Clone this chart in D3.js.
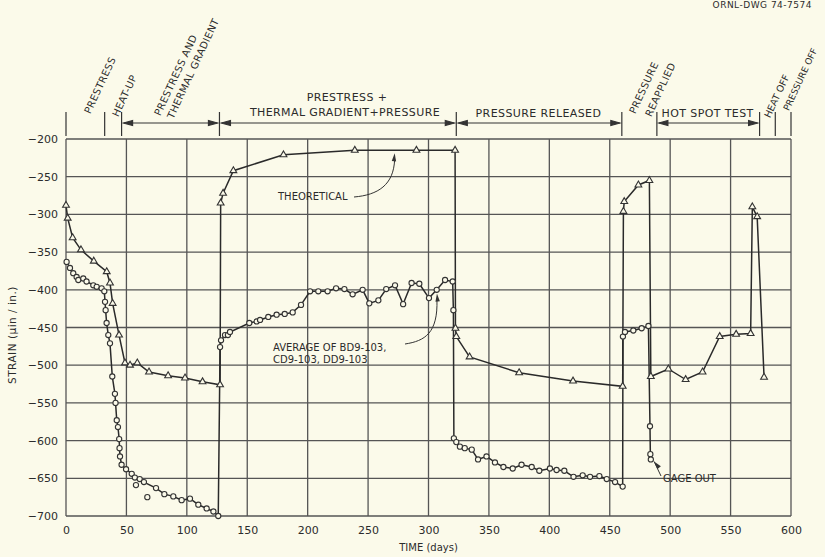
<!DOCTYPE html>
<meta charset="utf-8">
<script src="https://cdn.jsdelivr.net/npm/d3@7"></script>
<style>
  body { margin: 0; background: #fbfaea; }
  svg { display: block; background: #fbfaea; }
  text { font-family: "DejaVu Sans", sans-serif; fill: #2b2b2b; }
  .grid line { stroke: #555; stroke-width: 1.3px; }
  .line { fill: none; stroke: #2a2a2a; stroke-width: 1.5px; }
  .mark { fill: #fbfaea; stroke: #333; stroke-width: 1.1px; }
  .hdr line, .hdr path { stroke: #333; stroke-width: 1.2px; fill: none; }
  .lead { fill: none; stroke: #333; stroke-width: 1px; }
</style>
<body>
<script>

// tick values
var dayTicks = d3.range(0, 601, 50);
var strainTicks = d3.range(-700, -199, 50);

// theoretical curve (triangles)
var theoDays =   [0, 1.4, 5.5, 12.4, 23, 33.7, 36.4, 38.6, 43.9, 48.8, 53, 59, 68.7, 84.5, 98.5, 113, 127.5,
                  128, 130, 138.5, 180, 239, 290, 322,
                  322.3, 323, 334, 375, 419.6, 460.7,
                  461.3, 462, 473.7, 482.8,
                  484, 498.5, 512.8, 526.8, 541, 554.6, 566.6, 568, 572, 577.7];
var theoStrain = [-288, -305, -331, -347, -362, -376, -391, -418, -460, -497, -500, -497, -509, -514, -517, -522, -526,
                  -285, -272, -242, -221, -215, -215, -215,
                  -451, -462, -489, -510, -521, -528,
                  -296, -283, -261, -255,
                  -515, -505, -519, -509, -462, -459, -458, -290, -303, -516];

// average of BD9-103, CD9-103, DD9-103 (circles)
var measDays =   [0.5, 3.3, 6, 8.8, 10.2, 14.3, 17, 22.6, 25.4, 29.5, 31.7, 32.3, 32.8, 33.6, 35, 36.4, 38.3, 40.5,
                  41, 42, 43, 44, 44.3, 44.7, 46, 49.7, 54.4, 57, 61, 64.5, 74.5, 81.4, 88.8, 95.7, 102.6, 109.5, 116.4, 122, 126,
                  127.5, 128.3, 131.6, 134, 135.7, 151.7, 157.8, 160.6, 167.4, 174.3, 181, 187.6, 194.5, 202, 208.8, 216.5,
                  223.5, 230.4, 237.2, 245.5, 251, 258.5, 265, 272.3, 279, 286, 292.4, 300.4, 306.8, 313.7, 320,
                  320.6, 321, 323, 326, 330, 335.8, 341, 348, 355, 362, 369.7, 377, 385.4, 391.7, 400.5, 406, 412.4,
                  420, 427.6, 433.7, 441.4, 447.5, 454.4, 460.7,
                  460.9, 462.6, 469.5, 476.4, 482,
                  483.3, 483.6, 484];
var measStrain = [-363, -371, -378, -383, -387, -385, -389, -394, -396, -398, -402, -416, -427, -444, -460, -471, -515, -538,
                  -550, -573, -582, -598, -610, -621, -632, -638, -644, -649, -651, -655, -663, -671, -674, -679, -677, -685, -690, -694, -700,
                  -476, -467, -460, -460, -456, -444, -442, -440, -436, -433, -432, -430, -420, -402, -402, -402,
                  -398, -399, -406, -400, -418, -414, -399, -394, -419, -391, -392, -411, -400, -387, -389,
                  -427, -597, -602, -608, -610, -612, -625, -621, -629, -635, -637, -632, -635, -640, -637, -639, -640,
                  -648, -646, -648, -647, -651, -655, -661,
                  -462, -456, -454, -451, -448,
                  -581, -618, -625];

// stray readings
var strayDays =   [57.9, 67.3];
var strayStrain = [-659, -675];

// test phases shown above the plot
var phaseBounds = [0, 32, 46, 127, 323, 460, 489, 574, 587, 600];
var phaseSpans  = [[46, 127], [127, 323], [323, 460], [489, 574]];

var width = 825, height = 557;
var margin = {left: 66, right: 34, top: 139, bottom: 41};

var x = d3.scaleLinear().domain([0, 600]).range([margin.left, width - margin.right]);
var y = d3.scaleLinear().domain([-700, -200]).range([height - margin.bottom, margin.top]);

var svg = d3.select("body").append("svg")
    .attr("width", width)
    .attr("height", height);

// grid
var grid = svg.append("g").attr("class", "grid");
grid.selectAll("line.v").data(dayTicks).enter().append("line")
    .attr("x1", function(d) { return x(d); })
    .attr("x2", function(d) { return x(d); })
    .attr("y1", y(-700)).attr("y2", y(-200));
grid.selectAll("line.h").data(strainTicks).enter().append("line")
    .attr("x1", x(0)).attr("x2", x(600))
    .attr("y1", function(d) { return y(d); })
    .attr("y2", function(d) { return y(d); });

// axes (labels only, the grid is the frame)
var xAxis = svg.append("g")
    .attr("transform", "translate(0," + y(-700) + ")")
    .call(d3.axisBottom(x).tickValues(dayTicks).tickSize(0).tickPadding(10).tickFormat(d3.format("d")));
var yAxis = svg.append("g")
    .attr("transform", "translate(" + x(0) + ",0)")
    .call(d3.axisLeft(y).tickValues(strainTicks).tickSize(0).tickPadding(8)
      .tickFormat(function(d) { return "\u2212" + Math.abs(d); }));
[xAxis, yAxis].forEach(function(a) {
  a.select(".domain").remove();
  a.selectAll("text").style("font-size", "11px").style("fill", "#2b2b2b")
    .style("font-family", "'DejaVu Sans', sans-serif");
});

svg.append("text")
    .attr("x", x(300)).attr("y", 551)
    .attr("text-anchor", "middle")
    .style("font-size", "10px")
    .text("TIME (days)");

svg.append("text")
    .attr("transform", "translate(16," + y(-460) + ") rotate(-90)")
    .attr("text-anchor", "middle")
    .style("font-size", "10.5px")
    .style("letter-spacing", "0.5px")
    .text("STRAIN (\u03bcin / in.)");

// curves
var line = d3.line()
    .x(function(d) { return x(d[0]); })
    .y(function(d) { return y(d[1]); });

var theo = d3.zip(theoDays, theoStrain);
var meas = d3.zip(measDays, measStrain);
var stray = d3.zip(strayDays, strayStrain);

svg.append("path").datum(theo).attr("class", "line").attr("d", line);
svg.append("path").datum(meas).attr("class", "line").attr("d", line);

var tri = d3.symbol().type(d3.symbolTriangle).size(20);
svg.selectAll(".tri").data(theo).enter().append("path")
    .attr("class", "mark")
    .attr("d", tri)
    .attr("transform", function(d) { return "translate(" + x(d[0]) + "," + y(d[1]) + ")"; });

svg.selectAll(".circ").data(meas.concat(stray)).enter().append("circle")
    .attr("class", "mark")
    .attr("r", 2.6)
    .attr("cx", function(d) { return x(d[0]); })
    .attr("cy", function(d) { return y(d[1]); });

// header: phase markers and arrows
var hdr = svg.append("g").attr("class", "hdr");
var arrowY = 123;
hdr.selectAll("line.bound").data(phaseBounds).enter().append("line")
    .attr("x1", function(d) { return x(d); })
    .attr("x2", function(d) { return x(d); })
    .attr("y1", 112).attr("y2", 136);

phaseSpans.forEach(function(s) {
  var a = x(s[0]) + 2, b = x(s[1]) - 2;
  hdr.append("line").attr("x1", a).attr("x2", b).attr("y1", arrowY).attr("y2", arrowY);
  hdr.append("path").attr("d", "M" + a + "," + arrowY + "l9,-2.5l0,5z").style("fill", "#333");
  hdr.append("path").attr("d", "M" + b + "," + arrowY + "l-9,-2.5l0,5z").style("fill", "#333");
});

var hdrText = svg.append("g").style("font-size", "11px").style("letter-spacing", "0.4px");
hdrText.append("text").attr("x", 347).attr("y", 101).attr("text-anchor", "middle").text("PRESTRESS +");
hdrText.append("text").attr("x", 345).attr("y", 116).attr("text-anchor", "middle").text("THERMAL  GRADIENT+PRESSURE");
hdrText.append("text").attr("x", x(391)).attr("y", 117).attr("text-anchor", "middle").text("PRESSURE  RELEASED");
hdrText.append("text").attr("x", x(531)).attr("y", 117).attr("text-anchor", "middle").text("HOT  SPOT  TEST");

var rotated = [
  {t: "PRESTRESS", x: 87, y: 113, s: 10},
  {t: "HEAT-UP", x: 115, y: 116, s: 10},
  {t: "PRESTRESS AND", x: 157, y: 115, s: 10},
  {t: "THERMAL GRADIENT", x: 170, y: 118, s: 10},
  {t: "PRESSURE", x: 632, y: 113, s: 10},
  {t: "REAPPLIED", x: 648, y: 116, s: 10},
  {t: "HEAT OFF", x: 767, y: 117, s: 9.5},
  {t: "PRESSURE OFF", x: 786, y: 110, s: 9}
];
hdrText.selectAll("text.rot").data(rotated).enter().append("text")
    .attr("class", "rot")
    .attr("transform", function(d) { return "translate(" + d.x + "," + d.y + ") rotate(-65)"; })
    .attr("dy", "0.35em")
    .style("font-size", function(d) { return d.s + "px"; })
    .style("letter-spacing", function(d) { return d.s < 10 ? "0px" : "0.4px"; })
    .text(function(d) { return d.t; });

svg.append("text")
    .attr("x", 812).attr("y", 8)
    .attr("text-anchor", "end")
    .style("font-size", "9px")
    .style("letter-spacing", "0.5px")
    .text("ORNL-DWG 74-7574");

// annotations with leader arrows
function arrowHead(tx, ty, ang) {
  // ang: direction the arrow points, in degrees (0 = right, -90 = up)
  svg.append("path")
      .attr("d", "M0,0l-8,-2.2l0,4.4z")
      .attr("transform", "translate(" + tx + "," + ty + ") rotate(" + ang + ")")
      .style("fill", "#333");
}

svg.append("text").attr("x", 278).attr("y", 200).style("font-size", "10px").text("THEORETICAL");
var t1 = [x(272), y(-215) + 3];
svg.append("path").attr("class", "lead")
    .attr("d", "M354,197 C378,195 " + (t1[0] - 1) + ",185 " + t1[0] + "," + (t1[1] + 6));
arrowHead(t1[0], t1[1], -85);

svg.append("text").attr("x", 273).attr("y", 351).style("font-size", "10px").text("AVERAGE OF BD9-103,");
svg.append("text").attr("x", 273).attr("y", 363).style("font-size", "10px").text("CD9-103, DD9-103");
var t2 = [x(307), y(-405)];
svg.append("path").attr("class", "lead")
    .attr("d", "M405,344 C425,341 " + (t2[0] + 1) + ",333 " + t2[0] + "," + (t2[1] + 6));
arrowHead(t2[0], t2[1], -95);

svg.append("text").attr("x", 663).attr("y", 482).style("font-size", "10px").text("GAGE OUT");
var t3 = [x(485), y(-625)];
svg.append("path").attr("class", "lead")
    .attr("d", "M661,476 L" + (t3[0] + 2) + "," + (t3[1] + 2));
arrowHead(t3[0] + 2, t3[1] + 2, -130);

</script>
</body>
